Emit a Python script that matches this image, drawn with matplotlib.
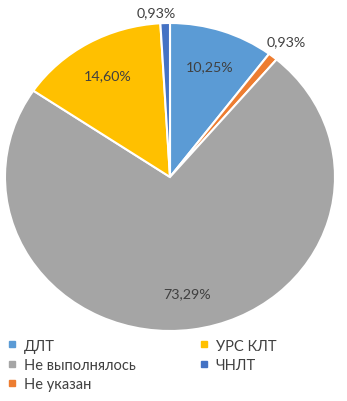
import matplotlib
matplotlib.use('Agg')
import matplotlib.pyplot as plt
from matplotlib.lines import Line2D

plt.rcParams['font.family'] = ['Lato', 'DejaVu Sans']

# Data
categories = ['ДЛТ', 'Не указан', 'Не выполнялось', 'УРС КЛТ', 'ЧНЛТ']
values = [10.25, 0.93, 73.29, 14.60, 0.93]
colors = ['#5B9BD5', '#ED7D31', '#A5A5A5', '#FFC000', '#4472C4']
legend_order = ['ДЛТ', 'Не выполнялось', 'Не указан', 'УРС КЛТ', 'ЧНЛТ']

fig = plt.figure(figsize=(3.47, 4.02), dpi=100)
ax = fig.add_axes([5 / 347, 70 / 402, 330 / 347, 308 / 402])

pd_in = 0.76
wedges, texts, autotexts = ax.pie(
    values, colors=colors, startangle=90, counterclock=False,
    wedgeprops=dict(edgecolor='white', linewidth=1.5),
    autopct=lambda p: f'{p:.2f}%'.replace('.', ','),
    pctdistance=pd_in,
    textprops=dict(color='#404040', fontsize=10.3))

# small slices: labels outside the pie
for w, t, v in zip(wedges, autotexts, values):
    if v < 2:
        x, y = t.get_position()
        ux, uy = x / pd_in, y / pd_in
        if uy > 0.9:
            t.set_position((ux * 1.07 - 0.05, uy * 1.07))
        else:
            t.set_position((ux * 1.13, uy * 1.13))

ax.set_aspect('auto')
ax.set_xlim(-1, 1)
ax.set_ylim(-1, 1)

handles = []
for name in legend_order:
    i = categories.index(name)
    handles.append(Line2D([], [], marker='s', linestyle='', markersize=5,
                          color=colors[i], label=name))

fig.legend(handles=handles, ncol=2, loc='upper left',
           bbox_to_anchor=(-0.02, 0.188), frameon=False,
           fontsize=10.5, labelcolor='#404040', handlelength=0.8,
           handletextpad=0.4, columnspacing=4.3, labelspacing=0.35)

fig.savefig('out.png', dpi=100, facecolor='white')
